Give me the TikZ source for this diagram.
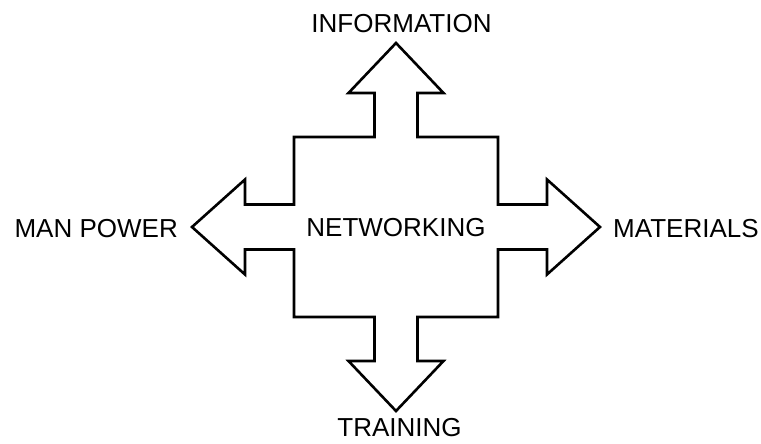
\documentclass[tikz,border=0pt]{standalone}
\usepackage{fontspec}
\setmainfont{Liberation Sans}
\tikzset{label text/.style={inner sep=0pt, font=\fontsize{26}{30}\selectfont},
  cross arrow/.style={line width=2.6pt, line join=miter, miter limit=10}}

\begin{document}
\begin{tikzpicture}[x=1pt, y=1pt]
  \useasboundingbox (-396,-217) rectangle (365,227);
%% four-way arrow
  \draw[cross arrow] (0,184) -- (47.5,134) -- (21.5,134) -- (21.5,90) -- (102,90)
    -- (102,22.5) -- (151,22.5) -- (151,47.5) -- (204,0) -- (151,-47.5) -- (151,-22.5)
    -- (102,-22.5) -- (102,-90) -- (21.5,-90) -- (21.5,-134) -- (47.5,-134)
    -- (0,-184) -- (-47.5,-134) -- (-21.5,-134) -- (-21.5,-90) -- (-102,-90)
    -- (-102,-22.5) -- (-151,-22.5) -- (-151,-47.5) -- (-204,0) -- (-151,47.5)
    -- (-151,22.5) -- (-102,22.5) -- (-102,90) -- (-21.5,90) -- (-21.5,134)
    -- (-47.5,134) -- cycle;
%% labels
  \node[label text, anchor=base] (net) at (0,-10) {NETWORKING};
  \node[label text, anchor=base] (info) at (5.5,194) {INFORMATION};
  \node[label text, anchor=base] (train) at (3.5,-210) {TRAINING};
  \node[label text, anchor=base east] (man) at (-218,-11) {MAN POWER};
  \node[label text, anchor=base west] (mat) at (217,-11) {MATERIALS};
\end{tikzpicture}
\end{document}
